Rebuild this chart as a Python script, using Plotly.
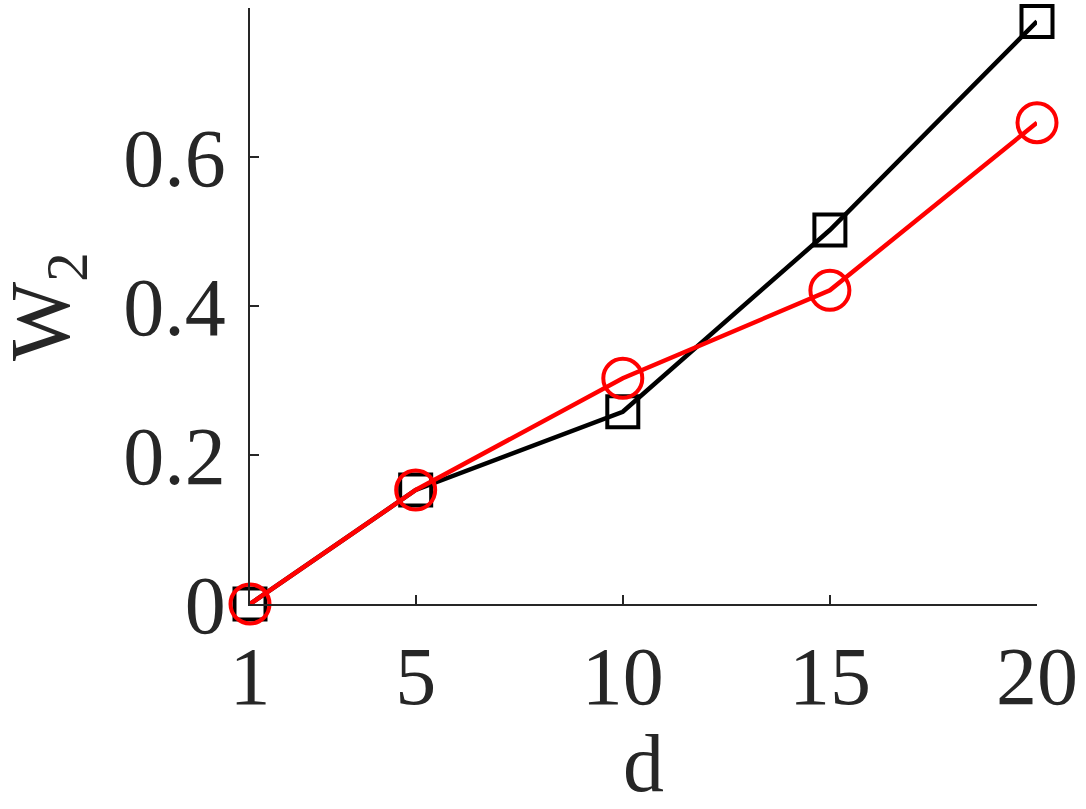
import plotly.graph_objects as go

# data
d = [1, 5, 10, 15, 20]
w2_black = [0.0, 0.153, 0.258, 0.502, 0.782]
w2_red = [0.0, 0.153, 0.303, 0.421, 0.646]

x_ticks = [1, 5, 10, 15, 20]
y_ticks = [0, 0.2, 0.4, 0.6]
y_ticktext = ["0", "0.2", "0.4", "0.6"]

FONT = "Liberation Serif, Times New Roman, serif"
INK = "#262626"

fig = go.Figure()
fig.add_trace(go.Scatter(
    x=d, y=w2_black, mode="lines+markers", cliponaxis=False,
    line=dict(color="black", width=4.5),
    marker=dict(symbol="square-open", size=31, color="black",
                line=dict(color="black", width=4)),
))
fig.add_trace(go.Scatter(
    x=d, y=w2_red, mode="lines+markers", cliponaxis=False,
    line=dict(color="#ff0000", width=4.5),
    marker=dict(symbol="circle-open", size=39, color="#ff0000",
                line=dict(color="#ff0000", width=4)),
))

axis_common = dict(
    showgrid=False, zeroline=False, showline=True, linecolor=INK, linewidth=1.5,
    ticks="inside", ticklen=9, tickwidth=1.5, tickcolor=INK,
    tickfont=dict(family=FONT, size=82, color=INK),
)
fig.update_xaxes(range=[1, 20], tickvals=x_ticks, ticklabelstandoff=0,
                 title=dict(text="d", font=dict(family=FONT, size=82, color=INK),
                            standoff=10),
                 **axis_common)
fig.update_yaxes(range=[0, 0.8], tickvals=y_ticks, ticktext=y_ticktext,
                 ticklabelstandoff=6, **axis_common)

# y title as a rotated annotation so it can sit right at the left edge
fig.add_annotation(
    text="W<sub>2</sub>",
    xref="paper", yref="paper", x=-0.258, y=0.5,
    xanchor="center", yanchor="middle", textangle=-90, showarrow=False,
    font=dict(family=FONT, size=84, color=INK),
)
fig.update_layout(
    width=1086, height=809, showlegend=False,
    plot_bgcolor="white", paper_bgcolor="white",
    margin=dict(l=250, r=46, t=8, b=205),
)
# drop the default page margin so the figure sits at the window's corner
fig.write_html("out.html", config={"displayModeBar": False},
               post_script="document.body.style.margin='0';")
